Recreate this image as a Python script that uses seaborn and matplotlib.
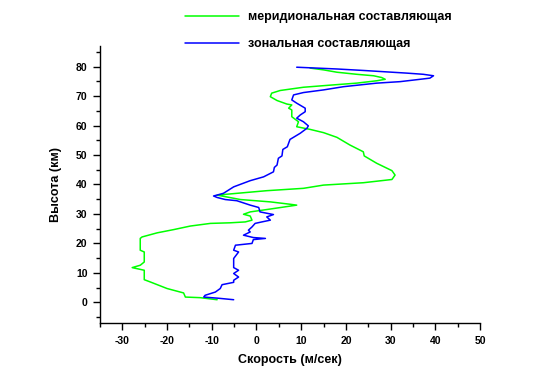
import numpy as np
import pandas as pd
import matplotlib
matplotlib.use("Agg")
import matplotlib.pyplot as plt
import seaborn as sns
from matplotlib.ticker import MultipleLocator

# meridional component (speed, height)
merid_speed = [12.0, 15.0, 18.0, 22.4, 26.2, 28.0, 28.8, 26.9, 22.4, 17.2, 10.5, 5.3,
               3.4, 3.1, 4.6, 6.8, 7.9, 7.2, 7.9, 7.9, 9.4, 9.0, 12.0, 15.0, 18.0,
               20.9, 23.9, 24.1, 26.9, 30.3, 31.0, 30.3, 23.9, 15.0, 10.5, 2.3,
               -4.4, -8.8, -3.6, 3.1, 7.5, 9.0, 2.3, -1.4, -2.9, -1.4, -1.0, -2.5,
               -5.9, -10.3, -14.8, -18.5, -22.2, -25.6, -26.0, -26.0, -25.1, -25.1,
               -26.0, -27.8, -25.1, -25.1, -23.7, -20.0, -16.3, -15.9, -12.6, -8.8]
merid_height = [79.5, 78.9, 78.1, 77.4, 76.9, 76.3, 75.7, 75.2, 74.4, 73.8, 73.0, 71.9,
                71.0, 69.8, 68.5, 67.3, 67.0, 65.9, 65.3, 63.0, 61.3, 59.6, 58.7, 57.6, 56.0,
                53.4, 51.1, 49.7, 47.2, 44.7, 43.2, 41.7, 40.6, 39.8, 38.7, 37.9,
                37.0, 36.4, 34.9, 34.1, 33.3, 33.0, 31.5, 30.7, 29.9, 29.3, 27.9, 27.3,
                27.0, 26.8, 25.9, 24.7, 23.6, 22.2, 21.7, 17.7, 17.1, 13.7,
                12.6, 11.8, 10.9, 7.7, 6.9, 4.7, 3.2, 1.8, 1.6, 0.9]

# zonal component (speed, height)
zonal_speed = [9.0, 18.0, 23.9, 33.6, 37.3, 39.6, 38.8, 36.6, 32.1, 26.9, 19.5, 15.0,
               10.5, 8.3, 7.9, 9.0, 10.9, 10.9, 9.8, 9.0, 10.5, 11.6, 11.3, 9.8, 7.5,
               6.9, 5.9, 5.7, 4.9, 4.6, 4.0, 3.8, 1.6, -1.4, -5.1, -7.4, -9.6, -8.8,
               -7.0, -4.4, -1.4, 0.5, 0.8, 3.8, 2.3, 3.1, 1.2, -0.3, -1.0, -1.8, -1.4,
               -2.9, -0.7, 2.0, -0.7, -1.0, -4.7, -5.1, -4.0, -5.1, -5.1, -4.0, -5.1,
               -4.0, -5.1, -5.1, -7.7, -8.1, -9.2, -11.5, -11.8, -8.5, -5.1]
zonal_height = [79.8, 79.2, 78.7, 77.8, 77.4, 76.9, 76.1, 75.7, 74.9, 74.4, 73.2, 72.1,
                71.2, 70.4, 68.7, 67.6, 65.9, 64.7, 63.6, 62.5, 61.3, 59.9, 59.1, 57.4, 55.3,
                52.8, 51.9, 49.7, 48.9, 46.6, 45.8, 44.3, 42.6, 41.3, 39.2, 37.0, 36.1, 35.6,
                34.9, 34.5, 33.0, 32.2, 30.7, 29.8, 29.0, 27.9, 27.3, 26.8, 25.6, 24.5, 23.9,
                22.8, 22.0, 21.7, 21.3, 20.0, 19.4, 17.7, 17.1, 14.9, 11.8, 10.9, 9.8,
                8.6, 7.5, 6.8, 6.0, 4.7, 3.5, 2.4, 1.8, 1.4, 0.9]

sns.set_style("white")
plt.rcParams['font.family'] = ['Liberation Sans', 'DejaVu Sans']
plt.rcParams['axes.unicode_minus'] = False
plt.rcParams['text.color'] = 'black'
plt.rcParams['axes.labelcolor'] = 'black'
plt.rcParams['xtick.color'] = 'black'
plt.rcParams['ytick.color'] = 'black'

fig = plt.figure(figsize=(5.56, 3.89), dpi=100)
ax = fig.add_axes([100/556, 1 - 323/389, 380/556, 277/389])

sns.lineplot(x=merid_speed, y=merid_height, sort=False, estimator=None,
             color="#00ff00", linewidth=1.1, ax=ax, label="меридиональная составляющая")
sns.lineplot(x=zonal_speed, y=zonal_height, sort=False, estimator=None,
             color="#0000ff", linewidth=1.1, ax=ax, label="зональная составляющая")

ax.set_xlim(-35, 50)
ax.set_ylim(-7, 87)
ax.xaxis.set_major_locator(MultipleLocator(10))
ax.xaxis.set_minor_locator(MultipleLocator(5))
ax.yaxis.set_major_locator(MultipleLocator(10))
ax.yaxis.set_minor_locator(MultipleLocator(5))
ax.tick_params(which="major", direction="out", length=5, width=1, labelsize=7.5,
               bottom=True, left=True, color="black", labelcolor="black", pad=4)
ax.tick_params(which="minor", direction="out", length=3, width=1,
               bottom=True, left=True, color="black")
for lab in ax.get_xticklabels() + ax.get_yticklabels():
    lab.set_fontweight("bold")

sns.despine(ax=ax)
for s in ["left", "bottom"]:
    ax.spines[s].set_color("black")
    ax.spines[s].set_linewidth(1)

ax.set_xlabel("Скорость (м/сек)", fontsize=9, fontweight="bold", labelpad=6, color="black")
ax.set_ylabel("Высота (км)", fontsize=9, fontweight="bold", labelpad=10, color="black")

ax.legend_.remove()
handles, labels = ax.get_legend_handles_labels()
leg = fig.legend(handles, labels, loc="upper left", bbox_to_anchor=(185/556, 1 - 11/389),
                 frameon=False, handlelength=4.3, handletextpad=0.75,
                 labelspacing=1.2, borderpad=0, borderaxespad=0,
                 prop={"weight": "bold", "size": 9})
for t in leg.get_texts():
    t.set_color("black")

fig.savefig("out.png", dpi=100)
